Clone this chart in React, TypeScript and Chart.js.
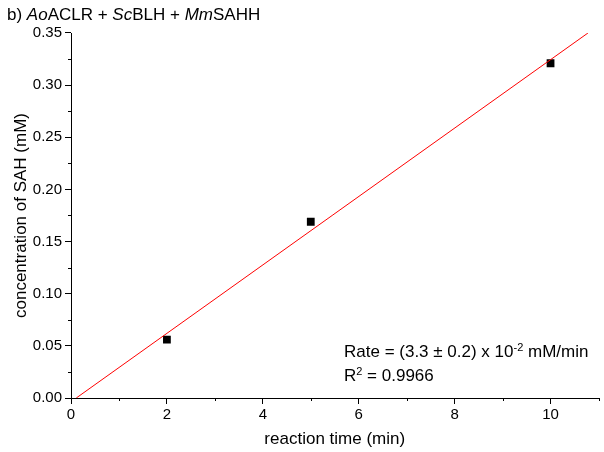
import React, { useEffect, useRef } from "react";
import { Chart, registerables } from "chart.js";

Chart.register(...registerables);

const timeMin = [2, 5, 10];
const sahConc = [0.056, 0.169, 0.321];
const fitX = [0.11, 10.78];
const fitY = [0, 0.35];

const xMin = 0;
const xMax = 11;
const xStep = 2;
const xMinorStep = 1;
const yMin = 0;
const yMax = 0.35;
const yStep = 0.05;
const yMinorStep = 0.025;

const FONT = "'Liberation Sans', Arial, sans-serif";

const minorTicksPlugin = {
  id: "minorTicks",
  afterDraw(chart: any) {
    const ctx = chart.ctx;
    const xs = chart.scales.x;
    const ys = chart.scales.y;
    ctx.save();
    ctx.strokeStyle = "#000";
    ctx.lineWidth = 1;
    ctx.beginPath();
    for (let i = 0; xMin + i * xMinorStep <= xMax + 1e-9; i++) {
      const v = xMin + i * xMinorStep;
      if (Math.abs(v / xStep - Math.round(v / xStep)) < 1e-6) continue;
      const px = Math.round(xs.getPixelForValue(v)) + 0.5;
      ctx.moveTo(px, xs.top);
      ctx.lineTo(px, xs.top + 3);
    }
    for (let i = 0; yMin + i * yMinorStep <= yMax + 1e-9; i++) {
      const v = yMin + i * yMinorStep;
      if (Math.abs(v / yStep - Math.round(v / yStep)) < 1e-6) continue;
      const py = Math.round(ys.getPixelForValue(v)) + 0.5;
      ctx.moveTo(ys.right, py);
      ctx.lineTo(ys.right - 3, py);
    }
    ctx.stroke();
    ctx.restore();
  },
};

function drawRuns(ctx: any, x: number, y: number, runs: { t: string; it?: boolean; sup?: boolean }[], size: number) {
  let cx = x;
  for (const r of runs) {
    const s = r.sup ? Math.round(size * 0.65) : size;
    ctx.font = `${r.it ? "italic " : ""}${s}px ${FONT}`;
    ctx.fillText(r.t, cx, r.sup ? y - size * 0.38 : y);
    cx += ctx.measureText(r.t).width;
  }
}

const textPlugin = {
  id: "texts",
  afterDraw(chart: any) {
    const ctx = chart.ctx;
    ctx.save();
    ctx.fillStyle = "#000";
    ctx.textBaseline = "alphabetic";
    ctx.textAlign = "left";
    drawRuns(
      ctx,
      7,
      20,
      [
        { t: "b) " },
        { t: "Ao", it: true },
        { t: "ACLR + " },
        { t: "Sc", it: true },
        { t: "BLH + " },
        { t: "Mm", it: true },
        { t: "SAHH" },
      ],
      17
    );
    drawRuns(
      ctx,
      344,
      357,
      [
        { t: "Rate = (3.3 ± 0.2) x 10" },
        { t: "-2", sup: true },
        { t: " mM/min" },
      ],
      17
    );
    drawRuns(ctx, 344, 381, [{ t: "R" }, { t: "2", sup: true }, { t: " = 0.9966" }], 17);
    ctx.restore();
  },
};

export default function App() {
  const ref = useRef<HTMLCanvasElement>(null);
  useEffect(() => {
    if (!ref.current) return;
    const chart = new Chart(ref.current, {
      type: "scatter",
      data: {
        datasets: [
          {
            label: "fit",
            type: "line",
            data: fitX.map((x, i) => ({ x, y: fitY[i] })),
            borderColor: "#ff0000",
            borderWidth: 1,
            pointRadius: 0,
            fill: false,
          } as any,
          {
            label: "SAH",
            data: timeMin.map((x, i) => ({ x, y: sahConc[i] })),
            backgroundColor: "#000",
            borderColor: "#000",
            pointStyle: "rect",
            pointRadius: 5.5,
            borderWidth: 0,
          },
        ],
      },
      options: {
        responsive: false,
        animation: false,
        layout: { padding: { top: 33, right: 3, left: 0, bottom: 0 } },
        plugins: { legend: { display: false }, tooltip: { enabled: false } },
        scales: {
          x: {
            type: "linear",
            min: xMin,
            max: xMax,
            afterFit: (s: any) => {
              s.height = 54;
            },
            afterBuildTicks: (s: any) => {
              const t = [];
              for (let v = xMin; v <= xMax; v += xStep) t.push({ value: v });
              s.ticks = t;
            },
            ticks: {
              color: "#000",
              font: { size: 15, family: FONT },
              padding: 2,
              maxRotation: 0,
            },
            grid: { drawOnChartArea: false, tickLength: 6, color: "#000" },
            border: { color: "#000", width: 1 },
            title: {
              display: true,
              text: "reaction time (min)",
              color: "#000",
              font: { size: 17, family: FONT },
              padding: { top: 0, bottom: 2 },
            },
          },
          y: {
            type: "linear",
            min: yMin,
            max: yMax,
            afterFit: (s: any) => {
              s.width = 71;
            },
            afterBuildTicks: (s: any) => {
              const t = [];
              for (let i = 0; i <= Math.round((yMax - yMin) / yStep); i++) t.push({ value: yMin + i * yStep });
              s.ticks = t;
            },
            ticks: {
              color: "#000",
              font: { size: 15, family: FONT },
              padding: 3,
              callback: (v: any) => Number(v).toFixed(2),
            },
            grid: { drawOnChartArea: false, tickLength: 6, color: "#000" },
            border: { color: "#000", width: 1 },
            title: {
              display: true,
              text: "concentration of SAH (mM)",
              color: "#000",
              font: { size: 17, family: FONT },
              padding: { top: 11, bottom: 0 },
            },
          },
        },
      },
      plugins: [minorTicksPlugin, textPlugin],
    });
    return () => chart.destroy();
  }, []);
  return (
    <div style={{ position: "fixed", left: 0, top: 0, width: 604, height: 452, background: "#fff" }}>
      <canvas ref={ref} width={604} height={452} style={{ display: "block" }} />
    </div>
  );
}
